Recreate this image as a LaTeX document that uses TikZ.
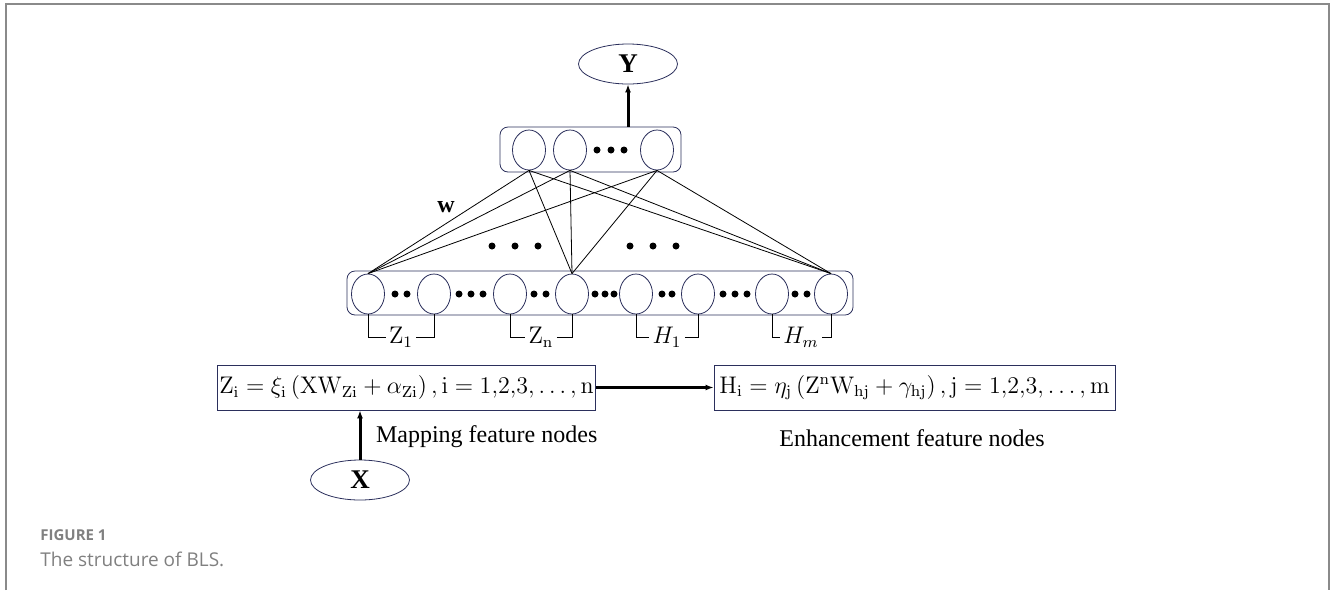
\documentclass[tikz,border=0pt]{standalone}
\usepackage[no-math]{fontspec}
\setmainfont{Liberation Serif}
\newfontfamily\capfont{Open Sans}
\usetikzlibrary{shapes.geometric,arrows.meta}
\definecolor{navy}{HTML}{2B2F5C}
\definecolor{framegray}{HTML}{8A8A8A}
\definecolor{capgray}{HTML}{808080}
\begin{document}
\begin{tikzpicture}
		[x=0.5pt,y=-0.5pt,
		unit/.style={ellipse,draw=navy,minimum width=16.5pt,minimum height=20pt,inner sep=0pt},
		dot/.style={circle,fill=black,minimum size=3.5pt,inner sep=0pt},
		io/.style={ellipse,draw=navy,minimum width=49.5pt,minimum height=20pt,inner sep=0pt,font=\bfseries\fontsize{13.5}{15}\selectfont},
		layer/.style={draw=navy,rounded corners=4pt},
		formula/.style={draw=navy,minimum height=22.5pt,inner sep=1pt,font=\fontsize{11.5}{13}\selectfont},
		brace/.style={inner sep=1.5pt,font=\fontsize{12}{13}\selectfont},
		fat/.style={line width=1.5pt,-{Latex[length=4pt,width=3pt]}}]
		\useasboundingbox (0,0) rectangle (1332,590);
		\draw[framegray,line width=1pt] (6,590) -- (6,4) -- (1329,4) -- (1329,590);
		% output and top layer
		\node[io,name=y] at (628,64) {Y};
		\node[layer,minimum width=90.5pt,minimum height=22.5pt,name=top] at (590.5,149.5) {};
		\node[unit,name=t1] at (529,150) {};
		\node[unit,name=t2] at (570,150) {};
		\node[unit,name=t3] at (657,150) {};
		\foreach \px in {597,611,624}
			\node[dot] at (\px,150) {};
		\draw[fat] (top.north -| y) -- (y);
		% feature layer
		\node[layer,minimum width=253pt,minimum height=22pt,name=feat] at (600,293) {};
		\foreach \name/\px in {b1/368,b2/434,b3/510,b4/572,b5/636,b6/698,b7/772,b8/831}
			\node[unit,name=\name] at (\px,294) {};
		\foreach \px in {395,407,459,471,483,534,546,595,605,614,662,672,723,735,747,795,807}
			\node[dot] at (\px,294) {};
		\foreach \px in {492,515,538,630,653,676}
			\node[dot] at (\px,246) {};
		\foreach \t in {t1,t2,t3}
			\foreach \b in {b1,b4,b8}
				\draw (\t.south) -- (\b.north);
		\node[font=\bfseries\large,name=w] at (446,207) {w};
		% groups
		\node[brace,name=z1] at (401,337) {$\mathrm{Z}_1$};
		\node[brace,name=zn] at (541,337) {$\mathrm{Z}_\mathrm{n}$};
		\node[brace,name=h1] at (667,337) {$H_1$};
		\node[brace,name=hm] at (801,337) {$H_m$};
		\draw (b1.south) |- (z1.west);
		\draw (z1.east) -| (b2.south);
		\draw (b3.south) |- (zn.west);
		\draw (zn.east) -| (b4.south);
		\draw (b5.south) |- (h1.west);
		\draw (h1.east) -| (b6.south);
		\draw (b7.south) |- (hm.west);
		\draw (hm.east) -| (b8.south);
		% formulas
		\node[formula,minimum width=184.5pt,name=f1] at (406.5,387.5)
			{$\mathrm{Z_i}=\xi_\mathrm{i}\left(\mathrm{XW_{Zi}}+\alpha_\mathrm{Zi}\right),\mathrm{i}=1{,}2{,}3,\dots,\mathrm{n}$};
		\node[formula,minimum width=200.5pt,name=f2] at (914.5,387.5)
			{$\mathrm{H_i}=\eta_\mathrm{j}\left(\mathrm{Z^nW_{hj}}+\gamma_\mathrm{hj}\right),\mathrm{j}=1{,}2{,}3,\dots,\mathrm{m}$};
		\draw[fat] (f1) -- (f2);
		\node[io,name=x] at (360,480) {X};
		\draw[fat] (x.north) -- (x.north |- f1.south);
		\node[anchor=west,font=\fontsize{12}{13}\selectfont,name=map] at (369,437) {Mapping feature nodes};
		\node[font=\fontsize{12}{13}\selectfont,name=enh] at (912,438) {Enhancement feature nodes};
		% caption
		\node[anchor=west,inner sep=0pt,text=capgray,font=\capfont\fontsize{7.5}{9}\selectfont\bfseries,name=fig] at (40,535) {FIGURE 1};
		\node[anchor=west,inner sep=0pt,text=capgray,font=\capfont\fontsize{9.5}{11}\selectfont,name=cap] at (40,559) {The structure of BLS.};
	\end{tikzpicture}
\end{document}
